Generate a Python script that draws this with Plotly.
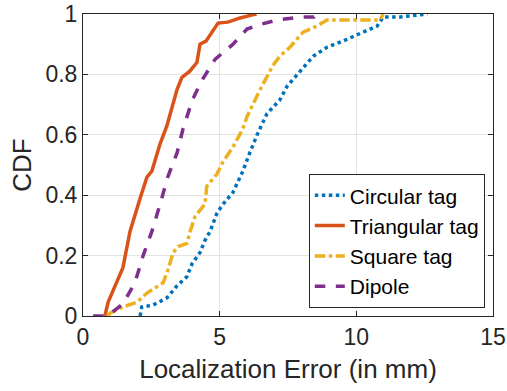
import plotly.graph_objects as go

circ_x = [2.09, 2.15, 2.56, 3.07, 3.44, 3.8, 4.0, 4.28, 4.46, 4.65, 4.9, 5.12, 5.49, 5.85, 6.1, 6.37, 6.73, 7.2, 7.46, 7.94, 8.42, 8.93, 9.5, 10.25, 10.76, 10.98, 11.6, 12.6]
circ_y = [0.0, 0.03, 0.036, 0.06, 0.1, 0.13, 0.175, 0.21, 0.25, 0.28, 0.34, 0.37, 0.41, 0.48, 0.54, 0.6, 0.67, 0.715, 0.76, 0.81, 0.86, 0.89, 0.91, 0.94, 0.96, 0.99, 0.99, 1.0]

tri_x = [0.8, 0.92, 1.46, 1.72, 2.09, 2.34, 2.52, 2.82, 3.07, 3.44, 3.62, 3.9, 4.17, 4.28, 4.5, 4.77, 4.94, 5.3, 5.75, 6.2, 6.35]
tri_y = [0.0, 0.046, 0.16, 0.28, 0.39, 0.46, 0.48, 0.57, 0.63, 0.75, 0.79, 0.81, 0.84, 0.9, 0.91, 0.95, 0.97, 0.973, 0.987, 0.997, 1.0]

sq_x = [0.9, 1.0, 1.46, 1.98, 2.34, 2.7, 2.93, 3.1, 3.3, 3.48, 3.8, 3.92, 4.1, 4.46, 4.53, 4.9, 5.12, 5.49, 5.85, 6.0, 6.48, 6.95, 7.2, 7.57, 8.05, 8.56, 8.93, 9.77, 10.87, 10.98]
sq_y = [0.0, 0.01, 0.03, 0.046, 0.076, 0.096, 0.11, 0.15, 0.21, 0.23, 0.24, 0.28, 0.33, 0.37, 0.43, 0.47, 0.51, 0.56, 0.62, 0.66, 0.75, 0.83, 0.86, 0.89, 0.94, 0.96, 0.98, 0.98, 0.98, 1.0]

dip_x = [0.37, 0.9, 1.46, 1.9, 2.2, 2.52, 2.82, 3.1, 3.44, 3.66, 4.0, 4.35, 4.83, 5.49, 6.0, 6.37, 7.1, 7.94, 8.45, 8.5]
dip_y = [0.0, 0.0, 0.04, 0.11, 0.2, 0.28, 0.37, 0.46, 0.54, 0.62, 0.715, 0.78, 0.85, 0.9, 0.95, 0.963, 0.98, 0.99, 0.99, 1.0]

names = ["Circular tag", "Triangular tag", "Square tag", "Dipole"]
colors = ["#0072BD", "#D95319", "#EDB120", "#7E2F8E"]
dashes = ["dot", "solid", "dashdot", "dash"]

fig = go.Figure()
for xs, ys, n, c, d in zip([circ_x, tri_x, sq_x, dip_x], [circ_y, tri_y, sq_y, dip_y], names, colors, dashes):
    fig.add_trace(go.Scatter(x=xs, y=ys, mode="lines", name=n,
                             line=dict(color=c, width=3.5, dash=d)))

axis_common = dict(showline=True, linecolor="#262626", linewidth=1, mirror="allticks",
                   ticks="inside", ticklen=5, tickcolor="#262626", automargin=False,
                   showgrid=True, gridcolor="#e3e3e3", gridwidth=1, zeroline=False,
                   tickfont=dict(family="Liberation Sans, Arial", size=23, color="#262626"))

fig.update_layout(
    width=507, height=391,
    margin=dict(l=83, r=14, t=14, b=75),
    paper_bgcolor="white", plot_bgcolor="white",
    font=dict(family="Liberation Sans, Arial", color="#262626"),
    xaxis=dict(range=[0, 15], tickvals=[0, 5, 10, 15],
               title=dict(text="Localization Error (in mm)", font=dict(size=26), standoff=11),
               **axis_common),
    yaxis=dict(range=[0, 1], tickvals=[0, 0.2, 0.4, 0.6, 0.8, 1], ticktext=["0", "0.2", "0.4", "0.6", "0.8", "1"],
               title=dict(text="CDF", font=dict(size=26), standoff=6),
               **axis_common),
    legend=dict(x=0.98, y=0.026, xanchor="right", yanchor="bottom",
                bordercolor="#262626", borderwidth=1, bgcolor="white",
                font=dict(size=21, color="black"), tracegroupgap=0,
                itemwidth=30),
    showlegend=True,
)

fig.write_html("out.html")
